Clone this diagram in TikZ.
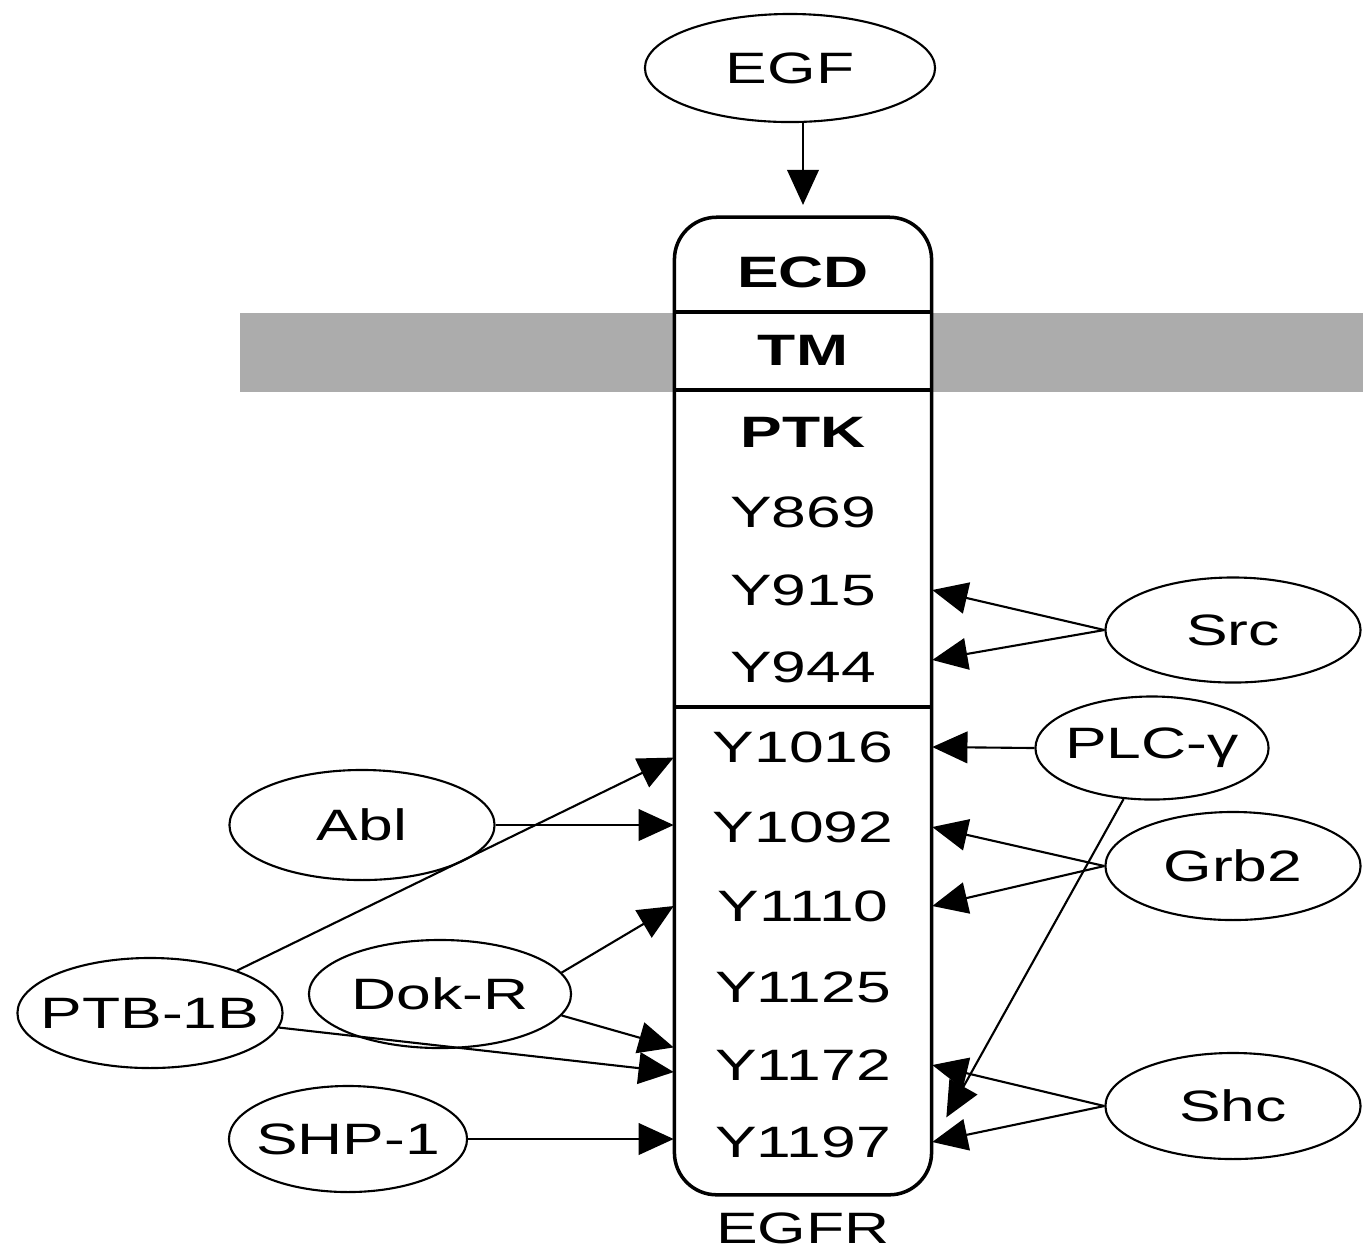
\documentclass[tikz,border=0pt]{standalone}
\usepackage{fontspec}
\setmainfont{Liberation Sans}[FakeStretch=1.42]
\usetikzlibrary{arrows.meta,shapes.geometric}

\begin{document}
\begin{tikzpicture}[
        x=0.01cm, y=-0.01cm,
        edge/.style = {-{Triangle[length=10pt,width=9pt]}, draw, line width=0.6pt},
        protein/.style = {ellipse, draw, line width=0.6pt, inner xsep=-5pt, inner ysep=0pt,
            font=\fontsize{12.5}{14}\selectfont},
        receptor/.style = {draw, fill=white, line width=1pt, rounded corners=12,
            minimum width=2.57cm, minimum height=9.77cm, inner sep=0pt},
        site/.style = {minimum width=2.57cm, minimum height=0.79cm, inner sep=0pt,
            font=\fontsize{12.5}{14}\selectfont},
        boldsite/.style = {site, font=\fontsize{12.5}{14}\selectfont\bfseries}]
    \useasboundingbox (0,0) rectangle (1363,1256);
    % membrane
    \fill[gray!65] (240,313) rectangle (1363,392);
    % receptor with its domains and sites
    \node[receptor] (egfr) at (803,706) {};
    \node[boldsite] (ecd) at (803,272) {ECD};
    \node[boldsite] (tm) at (803,350) {TM};
    \node[boldsite] (ptk) at (803,432) {PTK};
    \node[site] (y869) at (803,512) {Y869};
    \node[site] (y915) at (803,590) {Y915};
    \node[site] (y944) at (803,667) {Y944};
    \node[site] (y1016) at (803,747) {Y1016};
    \node[site] (y1092) at (803,827) {Y1092};
    \node[site] (y1110) at (803,906) {Y1110};
    \node[site] (y1125) at (803,987) {Y1125};
    \node[site] (y1172) at (803,1065) {Y1172};
    \node[site] (y1197) at (803,1142) {Y1197};
    \draw[line width=1pt] (ecd.south west) -- (ecd.south east);
    \draw[line width=1pt] (tm.south west) -- (tm.south east);
    \draw[line width=1pt] (y944.south west) -- (y944.south east);
    \node[site] (name) at (803,1228) {EGFR};
    % binding partners
    \node[protein, minimum width=2.9cm, minimum height=1.08cm] (egf) at (790,68) {EGF};
    \node[protein, minimum width=2.55cm, minimum height=1.05cm] (src) at (1233,630) {Src};
    \node[protein, minimum width=2.33cm, minimum height=1.03cm] (plc) at (1152,748) {PLC-γ};
    \node[protein, minimum width=2.55cm, minimum height=1.08cm] (grb) at (1233,866) {Grb2};
    \node[protein, minimum width=2.55cm, minimum height=1.06cm] (shc) at (1233,1106) {Shc};
    \node[protein, minimum width=2.65cm, minimum height=1.1cm] (abl) at (362,825) {Abl};
    \node[protein, minimum width=2.65cm, minimum height=1.1cm] (ptb) at (150,1013) {PTB-1B};
    \node[protein, minimum width=2.62cm, minimum height=1.08cm] (dok) at (440,994) {Dok-R};
    \node[protein, minimum width=2.38cm, minimum height=1.06cm] (shp) at (348,1139) {SHP-1};
    % interactions
    \draw[edge] (egf.south -| egfr.north) -- ([yshift=3pt]egfr.north);
    \draw[edge] (src.west) -- (y915.east);
    \draw[edge] (src.west) -- ([yshift=2pt]y944.east);
    \draw[edge] (plc.west) -- (y1016.east);
    \draw[edge] (plc) -- ([xshift=4pt,yshift=7pt]y1197.east);
    \draw[edge] (grb.west) -- (y1092.east);
    \draw[edge] (grb.west) -- (y1110.east);
    \draw[edge] (shc.west) -- (y1172.east);
    \draw[edge] (shc.west) -- (y1197.east);
    \draw[edge] (abl.east) -- (abl.east -| y1092.west);
    \draw[edge] (ptb) -- ([yshift=-3pt]y1016.west);
    \draw[edge] (ptb) -- ([yshift=-2pt]y1172.west);
    \draw[edge] (dok.10) -- (y1110.west);
    \draw[edge] (dok.-10) -- ([yshift=5pt]y1172.west);
    \draw[edge] (shp.east) -- (shp.east -| y1197.west);
\end{tikzpicture}
\end{document}
